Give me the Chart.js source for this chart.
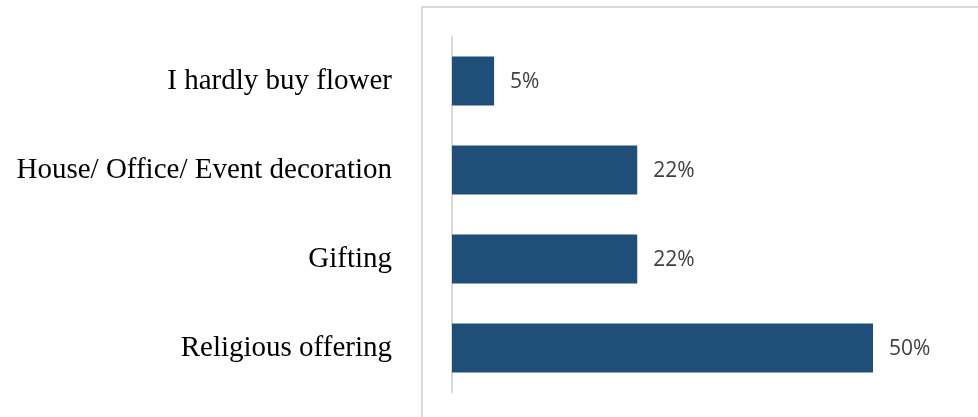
<!DOCTYPE html>
<html>
<head>
<meta charset="utf-8">
<script src="https://cdn.jsdelivr.net/npm/chart.js@4/dist/chart.umd.min.js"></script>
<style>
  html, body { margin: 0; padding: 0; background: #ffffff; }
  #wrap { position: relative; width: 978px; height: 417px; overflow: hidden; }
  #frame {
    position: absolute; left: 421px; top: 6px; width: 600px; height: 500px;
    border-top: 2px solid #d9d9d9; border-left: 2px solid #d9d9d9;
    box-sizing: border-box; pointer-events: none;
  }
  canvas { position: absolute; left: 0; top: 0; }
</style>
</head>
<body>
<div id="wrap">
  <div id="frame"></div>
  <canvas id="chart" width="978" height="417"></canvas>
</div>
<script>
// Reasons for buying flowers (share of respondents, %)
const categories = [
  'I hardly buy flower',
  'House/ Office/ Event decoration',
  'Gifting',
  'Religious offering'
];
const shares = [5, 22, 22, 50];
const valueLabels = ['5%', '22%', '22%', '50%'];

const AXIS_LEFT = 452;

// Writes the percentage to the right of each bar
const barValueLabels = {
  id: 'barValueLabels',
  afterDatasetsDraw(chart) {
    const ctx = chart.ctx;
    const meta = chart.getDatasetMeta(0);
    ctx.save();
    ctx.font = '21px "Open Sans", sans-serif';
    ctx.fillStyle = '#404040';
    ctx.textAlign = 'left';
    ctx.textBaseline = 'middle';
    meta.data.forEach((bar, i) => {
      ctx.fillText(valueLabels[i], bar.x + 16, bar.y + 1);
    });
    ctx.restore();
  }
};

new Chart(document.getElementById('chart'), {
  type: 'bar',
  data: {
    labels: categories,
    datasets: [{
      data: shares,
      backgroundColor: '#1f4e79',
      borderWidth: 0,
      categoryPercentage: 1,
      barPercentage: 0.55
    }]
  },
  options: {
    indexAxis: 'y',
    responsive: false,
    animation: false,
    layout: { padding: { left: 0, right: 62.9, top: 36.5, bottom: 24.5 } },
    plugins: {
      legend: { display: false },
      tooltip: { enabled: false }
    },
    scales: {
      x: {
        display: false,
        min: 0,
        max: 55
      },
      y: {
        // invisible tick marks keep the labels 60px away from the axis line
        grid: { display: false, drawTicks: true, tickLength: 60 },
        border: { display: true, color: '#d9d9d9', width: 2 },
        ticks: {
          color: '#000000',
          padding: 0,
          font: { family: '"Liberation Serif", "Times New Roman", serif', size: 29 }
        },
        afterFit(scale) { scale.width = AXIS_LEFT; }
      }
    }
  },
  plugins: [barValueLabels]
});
</script>
</body>
</html>
